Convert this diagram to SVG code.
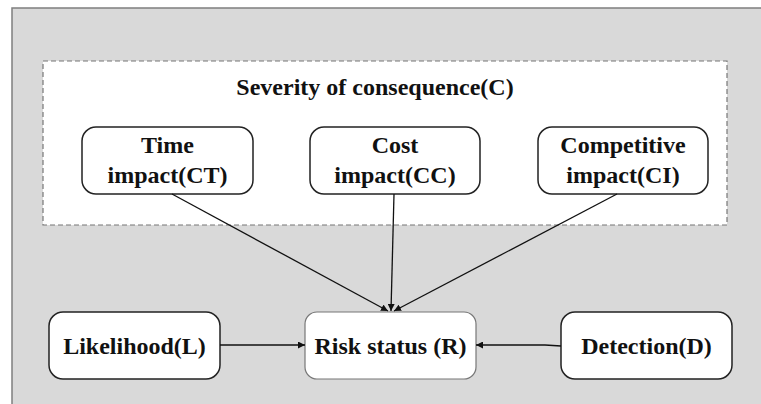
<svg xmlns="http://www.w3.org/2000/svg" width="761" height="404" viewBox="0 0 761 404">
<defs>
<style>
.bg{fill:#d9d9d9;stroke:#7f7f7f;stroke-width:1.5}
.node{fill:#fff;stroke:#222;stroke-width:1.5}
.risk{fill:#fff;stroke:#777;stroke-width:1.2}
.grp{fill:#fff;stroke:#777;stroke-width:1.2;stroke-dasharray:5 3}
.t{font-family:'Liberation Serif','DejaVu Serif',serif;font-weight:bold;font-size:24px;fill:#111;text-anchor:middle}
.c{stroke:#111;stroke-width:1.3;fill:none;marker-end:url(#ah)}
</style>
<marker id="ah" viewBox="0 0 10 10" refX="10" refY="5" markerWidth="7" markerHeight="7" orient="auto" markerUnits="userSpaceOnUse">
<path d="M0,0 L10,5 L0,10 z" fill="#111"/>
</marker>
</defs>
<rect class="bg" x="12" y="8" width="760" height="410"/>
<g id="severity">
<rect class="grp" x="43" y="61" width="684" height="164"/>
<text class="t" x="375" y="95">Severity of consequence(C)</text>
</g>
<g id="time">
<rect class="node" x="82" y="127" width="171" height="67" rx="14"/>
<text class="t" x="167.5" y="153">Time</text>
<text class="t" x="167.5" y="183">impact(CT)</text>
</g>
<g id="cost">
<rect class="node" x="310" y="127" width="170" height="67" rx="14"/>
<text class="t" x="395" y="153">Cost</text>
<text class="t" x="395" y="183">impact(CC)</text>
</g>
<g id="competitive">
<rect class="node" x="538" y="127" width="170" height="67" rx="14"/>
<text class="t" x="623" y="153">Competitive</text>
<text class="t" x="623" y="183">impact(CI)</text>
</g>
<g id="likelihood">
<rect class="node" x="49" y="312" width="171" height="67" rx="14"/>
<text class="t" x="134.5" y="354">Likelihood(L)</text>
</g>
<g id="risk">
<rect class="risk" x="305" y="312" width="171" height="67" rx="12"/>
<text class="t" x="390.5" y="354">Risk status (R)</text>
</g>
<g id="detection">
<rect class="node" x="561" y="312" width="171" height="67" rx="14"/>
<text class="t" x="646.5" y="354">Detection(D)</text>
</g>
<g id="connectors">
<line class="c" x1="172" y1="194" x2="388" y2="311"/>
<line class="c" x1="394" y1="194" x2="391" y2="311"/>
<line class="c" x1="617" y1="194" x2="394" y2="311"/>
<line class="c" x1="220" y1="345" x2="305" y2="345"/>
<polyline class="c" points="561,346 545,345 476,345"/>
</g>
</svg>
